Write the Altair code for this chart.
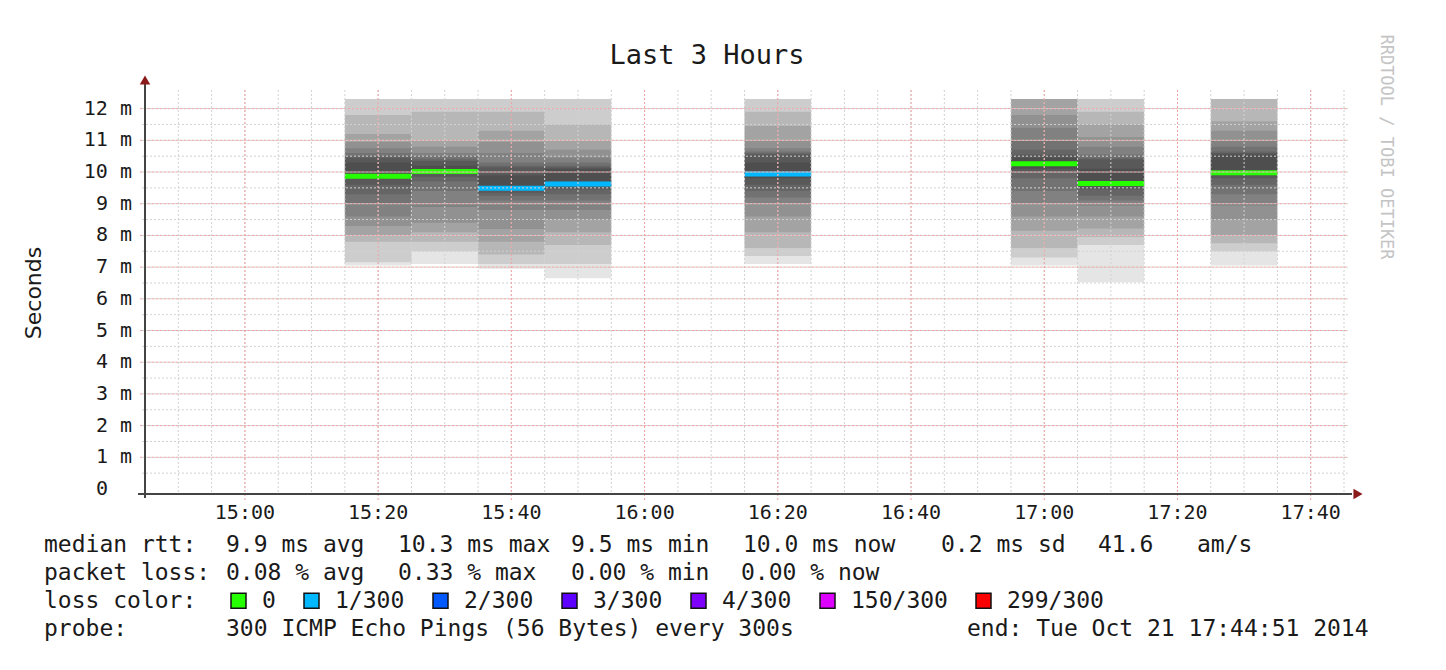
import altair as alt
import pandas as pd

# ---------------- data ----------------
bar_start = ["15:15", "15:25", "15:35", "15:45", "16:15", "16:55", "17:05", "17:25"]
bar_end = ["15:25", "15:35", "15:45", "15:55", "16:25", "17:05", "17:15", "17:35"]
median_ms = [9.87, 10.02, 9.49, 9.62, 9.94, 10.26, 9.64, 9.98]
loss_class = ["0", "0", "1/300", "1/300", "1/300", "0", "0", "0"]

# smoke bands (ms), outermost -> innermost
smoke_lo = [
    [7.05, 7.15, 7.80, 8.00, 8.30, 8.60, 9.00, 9.30, 9.60, 9.80],
    [7.10, 7.50, 7.80, 8.10, 8.40, 8.90, 9.40, 9.70, 9.85, 9.95],
    [6.95, 7.10, 7.40, 7.80, 8.20, 8.80, 9.10, 9.25, 9.35, 9.45],
    [6.65, 7.10, 7.70, 8.10, 8.50, 8.80, 9.10, 9.30, 9.45, 9.55],
    [7.10, 7.35, 7.60, 8.10, 8.60, 9.00, 9.20, 9.40, 9.60, 9.80],
    [7.05, 7.30, 7.60, 8.15, 8.60, 9.00, 9.40, 9.80, 10.00, 10.10],
    [6.52, 7.70, 7.95, 8.22, 8.60, 8.94, 9.10, 9.25, 9.45, 9.60],
    [7.05, 7.50, 7.75, 8.00, 8.50, 8.94, 9.30, 9.60, 9.80, 9.95],
]
smoke_hi = [
    [12.3, 12.3, 11.8, 11.20, 10.95, 10.75, 10.60, 10.50, 10.45, 10.30],
    [12.3, 12.3, 11.9, 11.00, 10.80, 10.60, 10.50, 10.40, 10.35, 10.20],
    [12.3, 12.3, 11.9, 11.30, 10.95, 10.60, 10.30, 10.20, 10.15, 9.90],
    [12.3, 12.3, 11.5, 10.98, 10.70, 10.45, 10.30, 10.20, 10.15, 10.10],
    [12.3, 12.3, 11.9, 11.45, 11.00, 10.75, 10.65, 10.60, 10.55, 10.30],
    [12.3, 12.3, 12.3, 12.30, 11.80, 11.40, 11.00, 10.70, 10.55, 10.45],
    [12.3, 12.3, 11.9, 11.50, 11.10, 10.80, 10.55, 10.45, 10.40, 10.10],
    [12.3, 12.3, 12.3, 11.60, 11.30, 11.00, 10.80, 10.65, 10.60, 10.55],
]

loss_labels = ["0", "1/300", "2/300", "3/300", "4/300", "150/300", "299/300"]
loss_colors = ["#26ff00", "#00b8ff", "#0059ff", "#5e00ff", "#7e00ff", "#dd00ff", "#ff0000"]

x_tick_labels = ["15:00", "15:20", "15:40", "16:00", "16:20", "16:40", "17:00", "17:20", "17:40"]
y_tick_values = [0, 1, 2, 3, 4, 5, 6, 7, 8, 9, 10, 11, 12]
y_title = "Seconds"

title_text = "Last 3 Hours"
legend_rows = [
    ["median rtt:", "9.9 ms avg", "10.3 ms max", "9.5 ms min", "10.0 ms now", "0.2 ms sd", "41.6", "am/s"],
    ["packet loss:", "0.08 % avg", "0.33 % max", "0.00 % min", "0.00 % now"],
    ["probe:", "300 ICMP Echo Pings (56 Bytes) every 300s", "end: Tue Oct 21 17:44:51 2014"],
]
credit_text = "RRDTOOL / TOBI OETIKER"

# ---------------- layout / style ----------------
W, H = 1203, 404
MONO = "DejaVu Sans Mono"
SANS = "DejaVu Sans"
INK = "#1a1a1a"
GRID_MINOR = "#d2d2d2"
GRID_MAJOR = "#f4a0a0"
AXIS_COL = "#444444"
ARROW_COL = "#8b1a1a"
LEVEL_OPACITY = [0.10, 0.12, 0.13, 0.15, 0.18, 0.20, 0.20, 0.22, 0.25, 0.30]
legend_x = [
    [-101, 81, 253, 426, 598, 796, 953, 1052],
    [-101, 81, 253, 426, 596],
    [-101, 81, 822],
]
legend_y = [455, 483, 539]


def to_min(s):
    h, m = s.split(":")
    return int(h) * 60 + int(m)


smoke_rows = []
for i in range(len(bar_start)):
    for lev in range(len(smoke_lo[i])):
        smoke_rows.append(dict(t0=to_min(bar_start[i]), t1=to_min(bar_end[i]),
                               lo=smoke_lo[i][lev], hi=smoke_hi[i][lev], level=lev + 1))
smoke_df = pd.DataFrame(smoke_rows)

median_df = pd.DataFrame(dict(t0=[to_min(s) for s in bar_start], t1=[to_min(s) for s in bar_end],
                              median=median_ms, loss=loss_class))

x_tick_values = [to_min(s) for s in x_tick_labels]
x_minor = list(range(890, 1066, 5))
y_minor = [v / 2 for v in range(1, 25)]
xlab_df = pd.DataFrame({"v": x_tick_values, "label": x_tick_labels})
ylab_df = pd.DataFrame({"v": [v for v in y_tick_values if v],
                        "label": [f"{v} m" for v in y_tick_values if v]})
yzero_df = pd.DataFrame({"v": [0], "label": ["0"]})

xscale = alt.Scale(domain=[885, 1065.6], nice=False, zero=False)
yscale = alt.Scale(domain=[0, 12.43], nice=False, zero=False)

smoke = alt.Chart(smoke_df).mark_rect(color="#000000").encode(
    x=alt.X("t0:Q", scale=xscale, axis=None),
    x2="t1:Q",
    y=alt.Y("lo:Q", scale=yscale, axis=None),
    y2="hi:Q",
    opacity=alt.Opacity("level:O", scale=alt.Scale(domain=list(range(1, 11)), range=LEVEL_OPACITY),
                        legend=None),
)

medians = alt.Chart(median_df).mark_bar(orient="horizontal", size=5).encode(
    x=alt.X("t0:Q", scale=xscale, axis=None),
    x2="t1:Q",
    y=alt.Y("median:Q", scale=yscale, axis=None),
    color=alt.Color(
        "loss:N",
        scale=alt.Scale(domain=loss_labels, range=loss_colors),
        legend=alt.Legend(
            title="loss color:", orient="none", legendX=-101, legendY=499, direction="horizontal",
            titleOrient="left", titleFont=MONO, titleFontSize=23, titleFontWeight="normal",
            titleColor=INK, titlePadding=30, titleBaseline="middle",
            labelFont=MONO, labelFontSize=23, labelColor=INK, labelOffset=12,
            symbolType="square", symbolSize=225, symbolStrokeColor="#111111",
            symbolStrokeWidth=1.5, symbolOpacity=1, columnPadding=24, padding=0,
        ),
    ),
)

grid_layers = [
    alt.Chart(pd.DataFrame({"v": x_minor})).mark_rule(color=GRID_MINOR, strokeDash=[2, 2], strokeWidth=1).encode(
        x=alt.X("v:Q", scale=xscale, axis=None), y=alt.value(0), y2=alt.value(H)),
    alt.Chart(pd.DataFrame({"v": y_minor})).mark_rule(color=GRID_MINOR, strokeDash=[2, 2], strokeWidth=1).encode(
        y=alt.Y("v:Q", scale=yscale, axis=None), x=alt.value(-3), x2=alt.value(W)),
    alt.Chart(pd.DataFrame({"v": x_tick_values})).mark_rule(color=GRID_MAJOR, strokeDash=[2, 2], strokeWidth=1).encode(
        x=alt.X("v:Q", scale=xscale, axis=None), y=alt.value(0), y2=alt.value(H + 6)),
    alt.Chart(pd.DataFrame({"v": y_tick_values[1:]})).mark_rule(color=GRID_MAJOR, strokeDash=[2, 2], strokeWidth=1).encode(
        y=alt.Y("v:Q", scale=yscale, axis=None), x=alt.value(-5), x2=alt.value(W)),
]

one = pd.DataFrame({"a": [0]})
frame_layers = [
    alt.Chart(one).mark_rule(color=AXIS_COL, strokeWidth=2).encode(
        x=alt.value(0), y=alt.value(-6), y2=alt.value(H + 4)),
    alt.Chart(one).mark_rule(color=AXIS_COL, strokeWidth=2).encode(
        x=alt.value(-7), x2=alt.value(W + 4), y=alt.value(H)),
    alt.Chart(one).mark_point(shape="triangle-up", filled=True, size=110, color=ARROW_COL, opacity=1).encode(
        x=alt.value(0), y=alt.value(-10)),
    alt.Chart(one).mark_point(shape="triangle-right", filled=True, size=110, color=ARROW_COL, opacity=1).encode(
        x=alt.value(W + 10), y=alt.value(H)),
]

label_layers = [
    alt.Chart(xlab_df).mark_text(font=MONO, fontSize=20, color=INK, align="center", baseline="middle").encode(
        x=alt.X("v:Q", scale=xscale, axis=None), y=alt.value(H + 19), text="label:N"),
    alt.Chart(ylab_df).mark_text(font=MONO, fontSize=20, color=INK, align="right", baseline="middle").encode(
        y=alt.Y("v:Q", scale=yscale, axis=None), x=alt.value(-13), text="label:N"),
    alt.Chart(yzero_df).mark_text(font=MONO, fontSize=20, color=INK, align="right", baseline="middle").encode(
        y=alt.Y("v:Q", scale=yscale, axis=None), x=alt.value(-37), text="label:N"),
    alt.Chart(one).mark_text(text=y_title, font=SANS, fontSize=22, color=INK, align="center",
                             baseline="middle", angle=270).encode(x=alt.value(-111), y=alt.value(203)),
]

text_layers = [
    alt.Chart(one).mark_text(text=title_text, font=MONO, fontSize=27, color=INK, align="center",
                             baseline="middle").encode(x=alt.value(562), y=alt.value(-34)),
    alt.Chart(one).mark_text(text=credit_text, font=MONO, fontSize=17, color="#c4c4c4", align="center",
                             baseline="middle", angle=90).encode(x=alt.value(1241), y=alt.value(57)),
]
for row, xs, yy in zip(legend_rows, legend_x, legend_y):
    for txt, xx in zip(row, xs):
        text_layers.append(
            alt.Chart(one).mark_text(text=txt, font=MONO, fontSize=23, color=INK, align="left",
                                     baseline="middle").encode(x=alt.value(xx), y=alt.value(yy)))

chart = alt.layer(smoke, medians, *grid_layers, *frame_layers, *label_layers, *text_layers).properties(
    width=W, height=H,
    autosize=alt.AutoSizeParams(type="none"),
    padding={"left": 137, "top": 82, "right": 90, "bottom": 160},
    background="white",
).configure_view(stroke=None)

chart.save("out.html", embed_options={"renderer": "svg", "actions": False})
